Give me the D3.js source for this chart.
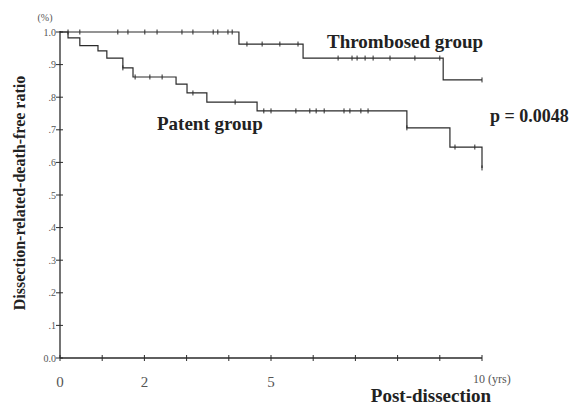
<!DOCTYPE html>
<html><head><meta charset="utf-8">
<script src="https://cdn.jsdelivr.net/npm/d3@7"></script>
<style>body{margin:0;background:#fff}</style>
</head><body>
<script>
// Thrombosed group: step times (years) and survival values
const thromboTimes = [0, 4.24, 5.76, 9.08];
const thromboSurv  = [1.0, 0.963, 0.92, 0.853];
const thromboEnd = 10.0;
const thromboCensor = [0.19, 0.47, 1.37, 1.61, 2.01, 2.30, 2.89, 3.15, 3.63, 3.74, 3.98, 4.08,
  4.43, 4.79, 5.21, 5.64, 6.59, 6.92, 7.04, 7.23, 7.42, 7.82, 8.41, 9.00, 10.0];

// Patent group
const patentTimes = [0, 0.19, 0.47, 0.90, 1.11, 1.49, 1.73, 2.75, 3.01, 3.48, 4.67, 8.22, 9.24, 10.0];
const patentSurv  = [1.0, 0.982, 0.958, 0.942, 0.920, 0.890, 0.862, 0.840, 0.813, 0.785, 0.758, 0.706, 0.647, 0.583];
const patentEnd = 10.0;
const patentCensor = [1.49, 1.78, 2.13, 2.42, 3.15, 4.15, 4.83, 5.00, 5.59, 5.92, 6.07, 6.26,
  6.73, 6.87, 7.13, 7.30, 8.22, 9.36, 9.83, 10.0];

const xTicks = [0,1,2,3,4,5,6,7,8,9,10];
const xTickLabels = {0:"0", 2:"2", 5:"5", 10:"10 (yrs)"};
const yTicks = [0,0.1,0.2,0.3,0.4,0.5,0.6,0.7,0.8,0.9,1.0];
const yTickLabels = ["0.0",".1",".2",".3",".4",".5",".6",".7",".8",".9","1.0"];

const W = 575, H = 405;
const svg = d3.select("body").append("svg").attr("width", W).attr("height", H)
  .style("font-family", "'Liberation Serif','Times New Roman',serif");

const x = d3.scaleLinear().domain([0, 10]).range([60, 482]);
const y = d3.scaleLinear().domain([0, 1]).range([358, 32]);
const ink = "#2a2a2a";

// axes
svg.append("line").attr("x1", x(0)).attr("x2", x(0)).attr("y1", y(0)).attr("y2", y(1) - 1)
  .attr("stroke", ink).attr("stroke-width", 1.3);
svg.append("line").attr("x1", x(0)).attr("x2", x(10)).attr("y1", y(0)).attr("y2", y(0))
  .attr("stroke", ink).attr("stroke-width", 1.3);

svg.selectAll(".yt").data(yTicks).enter().append("line")
  .attr("x1", x(0) - 4).attr("x2", x(0) + 3)
  .attr("y1", d => y(d)).attr("y2", d => y(d)).attr("stroke", ink).attr("stroke-width", 1);
svg.selectAll(".ytl").data(yTicks).enter().append("text")
  .attr("x", x(0) - 4).attr("y", d => y(d) + 3.5).attr("text-anchor", "end")
  .attr("font-size", 10).attr("fill", "#555").text((d, i) => yTickLabels[i]);

svg.selectAll(".xt").data(xTicks).enter().append("line")
  .attr("x1", d => x(d)).attr("x2", d => x(d)).attr("y1", y(0) - 3).attr("y2", y(0) + 3)
  .attr("stroke", ink).attr("stroke-width", 1);
svg.selectAll(".xtl").data(xTicks.filter(d => xTickLabels[d] !== undefined)).enter().append("text")
  .attr("x", d => x(d)).attr("y", d => d === 10 ? 383 : 387)
  .attr("text-anchor", d => d === 10 ? "start" : "middle")
  .attr("dx", d => d === 10 ? -9 : 0)
  .attr("font-size", d => d === 10 ? 12 : 15).attr("fill", "#555")
  .text(d => xTickLabels[d]);

svg.append("text").attr("x", 45).attr("y", 21).attr("text-anchor", "middle")
  .attr("font-size", 10).attr("fill", "#555").text("(%)");

// KM step lines
function stepPath(times, surv, end) {
  const pts = times.map((t, i) => [t, surv[i]]);
  pts.push([end, surv[surv.length - 1]]);
  return d3.line().x(d => x(d[0])).y(d => y(d[1])).curve(d3.curveStepAfter)(pts);
}
function survAt(times, surv, t) {
  let v = surv[0];
  for (let i = 0; i < times.length; i++) if (times[i] <= t) v = surv[i];
  return v;
}
function drawGroup(times, surv, end, censor) {
  svg.append("path").attr("d", stepPath(times, surv, end)).attr("fill", "none")
    .attr("stroke", ink).attr("stroke-width", 1.2);
  svg.append("g").selectAll("line").data(censor).enter().append("line")
    .attr("x1", d => x(d)).attr("x2", d => x(d))
    .attr("y1", d => y(survAt(times, surv, d)) - 2.5)
    .attr("y2", d => y(survAt(times, surv, d)) + 2.5)
    .attr("stroke", ink).attr("stroke-width", 1);
}
drawGroup(thromboTimes, thromboSurv, thromboEnd, thromboCensor);
drawGroup(patentTimes, patentSurv, patentEnd, patentCensor);

// annotations
svg.append("text").attr("x", 327).attr("y", 48).attr("font-size", 19).attr("font-weight", "bold")
  .attr("fill", "#222").text("Thrombosed group");
svg.append("text").attr("x", 157).attr("y", 130).attr("font-size", 19).attr("font-weight", "bold")
  .attr("fill", "#222").text("Patent group");
svg.append("text").attr("x", 490).attr("y", 122).attr("font-size", 18).attr("font-weight", "bold")
  .attr("fill", "#222").text("p = 0.0048");
svg.append("text").attr("x", 431).attr("y", 402).attr("text-anchor", "middle")
  .attr("font-size", 19).attr("font-weight", "bold").attr("fill", "#222").text("Post-dissection");
svg.append("text").attr("transform", "translate(25,193) rotate(-90)").attr("text-anchor", "middle")
  .attr("font-size", 16).attr("font-weight", "bold").attr("fill", "#222")
  .text("Dissection-related-death-free ratio");
</script>
</body></html>
